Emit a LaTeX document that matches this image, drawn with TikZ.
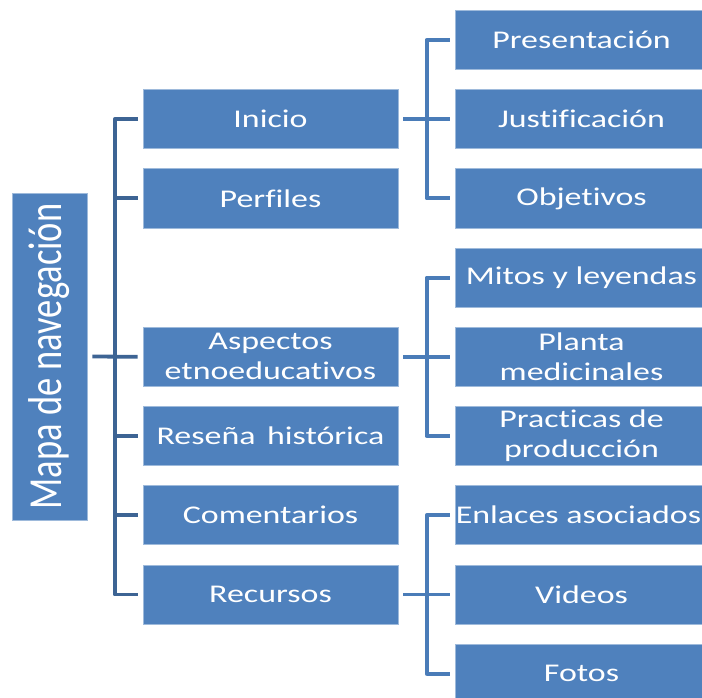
\documentclass[tikz,border=0pt]{standalone}
\usepackage{fontspec}
\setmainfont{Carlito}
\newfontfamily\boxfont[FakeStretch=1.33,Ligatures={NoCommon}]{Carlito}
\definecolor{boxblue}{HTML}{4F81BD}
\definecolor{darkline}{HTML}{3D6494}
\definecolor{lightline}{HTML}{4A7CB8}
\tikzset{
  navbox/.style={rectangle, fill=boxblue, draw=boxblue!55!white, line width=0.8pt, inner sep=0pt,
    text=white, align=center, font=\boxfont\fontsize{25.5}{30}\selectfont},
  midbox/.style={navbox, minimum width=255pt, minimum height=59pt},
  subbox/.style={navbox, minimum width=253pt, minimum height=59pt},
  lconn/.style={draw=darkline, line width=3.8pt, line join=round},
  rconn/.style={draw=lightline, line width=3.8pt, line join=round}
}
\begin{document}
\begin{tikzpicture}[x=1pt,y=-1pt]
\useasboundingbox (0,0) rectangle (702,698);
% root
\node[navbox, minimum width=75pt, minimum height=327pt] (root) at (49.5,356.5)
  {\scalebox{1.3}[1]{\rotatebox{90}{\fontspec{Carlito}\fontsize{36.5}{36}\selectfont Mapa de navegación}}};
% middle column
\node[midbox] (ini) at (270.5,119.2) {Inicio};
\node[midbox] (per) at (270.5,198.4) {Perfiles};
\node[midbox] (asp) at (270.5,356.8) {Aspectos\\etnoeducativos};
\node[midbox] (res) at (270.5,436.0) {Reseña\hspace{0.45em}histórica};
\node[midbox] (com) at (270.5,515.2) {Comentarios};
\node[midbox] (rec) at (270.5,594.4) {Recursos};
% right column
\node[subbox] (pre) at (581.5,40.0) {Presentación};
\node[subbox] (jus) at (581.5,119.2) {Justificación};
\node[subbox] (obj) at (581.5,198.4) {Objetivos};
\node[subbox] (mit) at (581.5,277.6) {Mitos y leyendas};
\node[subbox] (pla) at (581.5,356.8) {Planta\\medicinales};
\node[subbox] (pra) at (581.5,436.0) {Practicas de\\producción};
\node[subbox, minimum width=247pt] (enl) at (578.5,515.2) {Enlaces asociados};
\node[subbox] (vid) at (581.5,594.4) {Videos};
\node[subbox] (fot) at (581.5,673.6) {Fotos};
% left connectors
\draw[lconn] ([xshift=-5pt]ini.west) -- ([xshift=-28pt]ini.west) -- ([xshift=-28pt]rec.west) -- ([xshift=-5pt]rec.west);
\draw[lconn] ([xshift=-28pt]per.west) -- ([xshift=-5pt]per.west);
\draw[lconn] ([xshift=-28pt]res.west) -- ([xshift=-5pt]res.west);
\draw[lconn] ([xshift=-28pt]com.west) -- ([xshift=-5pt]com.west);
\draw[lconn] ([xshift=5pt]root.east) -- ([xshift=-5pt]asp.west);
% right connectors
\foreach \p/\a/\b/\c in {ini/pre/jus/obj, asp/mit/pla/pra, rec/enl/vid/fot}{
  \draw[rconn] ([xshift=-5pt]\a.west) -- ([xshift=-28pt]\a.west) -- ([xshift=-28pt]\c.west) -- ([xshift=-5pt]\c.west);
  \draw[rconn] ([xshift=5pt]\p.east) -- ([xshift=-5pt]\b.west);
}
\end{tikzpicture}
\end{document}
